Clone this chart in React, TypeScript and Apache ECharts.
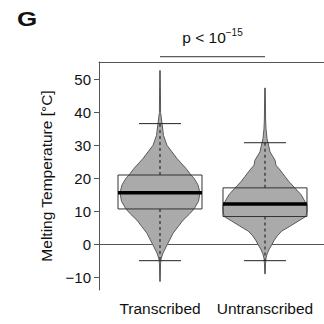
import React, { useEffect, useRef } from "react";
import * as echarts from "echarts";

const categories = ["Transcribed", "Untranscribed"];
const yTicks = [-10, 0, 10, 20, 30, 40, 50];
const whiskerLow = [-5.0, -5.0];
const q1 = [10.7, 8.4];
const median = [15.6, 12.2];
const q3 = [21.0, 17.1];
const whiskerHigh = [36.6, 30.8];

// [value, relative density (1 = widest)]
const violinTranscribed: [number, number][] = [
  [52.7, 0.007], [40, 0.014], [36.6, 0.048], [33, 0.083], [30, 0.167], [26, 0.405],
  [23, 0.619], [21, 0.738], [20, 0.81], [18, 0.905], [15.6, 0.952], [13, 0.917],
  [10.7, 0.81], [9, 0.69], [7.3, 0.55], [5.3, 0.43], [3.3, 0.31], [0.3, 0.19],
  [-2.7, 0.071], [-4.5, 0.024], [-6, 0.012], [-11.3, 0.007],
];
const violinUntranscribed: [number, number][] = [
  [47.4, 0.007], [38, 0.014], [35, 0.024], [32, 0.048], [30.8, 0.071], [28, 0.12],
  [25.5, 0.24], [24, 0.26], [22.5, 0.36], [20.5, 0.48], [19, 0.57], [17.1, 0.71],
  [15, 0.86], [13, 0.95], [12, 1.0], [10, 1.0], [8.4, 0.97], [7, 0.79], [5.5, 0.6],
  [4, 0.4], [2.5, 0.29], [1, 0.21], [0, 0.17], [-1.5, 0.1], [-3, 0.048],
  [-4.3, 0.024], [-6, 0.012], [-9.0, 0.007],
];
const violins = [violinTranscribed, violinUntranscribed];
const pLabelMain = "p < 10";
const pLabelExp = "−15";

const FONT = "Liberation Sans, Arial, Helvetica, sans-serif";
const fmt = (v: number) => (v < 0 ? "−" + Math.abs(v) : String(v));

export default function App() {
  const ref = useRef<HTMLDivElement>(null);
  useEffect(() => {
    if (!ref.current) return;
    const chart = echarts.init(ref.current, undefined, { renderer: "svg" });
    const violinHalf = 0.4;
    const boxHalf = 0.4;
    const capHalf = 0.2;
    const option: any = {
      animation: false,
      backgroundColor: "#fff",
      textStyle: { fontFamily: FONT },
      grid: { left: 99, right: 0, top: 62, bottom: 34, containLabel: false },
      xAxis: [
        {
          type: "value",
          min: 0.419,
          max: 2.562,
          axisLine: { show: true, lineStyle: { color: "#555", width: 1 } },
          axisTick: { show: true, customValues: [1, 2], length: 5, lineStyle: { color: "#555" } },
          axisLabel: {
            customValues: [1, 2],
            formatter: (v: number) => categories[Math.round(v) - 1] ?? "",
            color: "#111",
            fontSize: 15.5,
            fontFamily: FONT,
            margin: 10,
          },
          splitLine: { show: false },
        },
        {
          type: "value",
          position: "top",
          min: 0.419,
          max: 2.562,
          axisLine: { show: true, lineStyle: { color: "#555", width: 1 } },
          axisTick: { show: false },
          axisLabel: { show: false },
          splitLine: { show: false },
        },
      ],
      yAxis: {
        type: "value",
        min: -13.9,
        max: 55.3,
        name: "Melting Temperature [°C]",
        nameLocation: "middle",
        nameGap: 41,
        nameTextStyle: { fontSize: 15.5, color: "#111", fontFamily: FONT },
        axisLine: { show: true, lineStyle: { color: "#555", width: 1 } },
        axisTick: { show: true, customValues: yTicks, length: 5, lineStyle: { color: "#555" } },
        axisLabel: {
          customValues: yTicks,
          formatter: fmt,
          color: "#111",
          fontSize: 15,
          fontFamily: FONT,
          margin: 8,
        },
        splitLine: { show: false },
      },
      graphic: [
        {
          type: "text",
          left: 17,
          top: 9,
          style: { text: "G", fontSize: 20, fontWeight: "bold", fill: "#111", fontFamily: FONT },
          scaleX: 1.3,
        },
      ],
      series: [
        {
          type: "custom",
          clip: false,
          data: categories.map((_, i) => [i + 1, median[i]]),
          encode: { x: 0, y: 1 },
          renderItem: (params: any, api: any) => {
            const i = params.dataIndex;
            const x = i + 1;
            const prof = violins[i];
            const right = prof.map(([v, d]) => api.coord([x + d * violinHalf, v]));
            const left = prof
              .slice()
              .reverse()
              .map(([v, d]) => api.coord([x - d * violinHalf, v]));
            const tl = api.coord([x - boxHalf, q3[i]]);
            const br = api.coord([x + boxHalf, q1[i]]);
            const c = (v: number) => api.coord([x, v]);
            const capL = (v: number) => api.coord([x - capHalf, v]);
            const capR = (v: number) => api.coord([x + capHalf, v]);
            const ml = api.coord([x - boxHalf, median[i]]);
            const mr = api.coord([x + boxHalf, median[i]]);
            return {
              type: "group",
              children: [
                {
                  type: "polygon",
                  shape: { points: right.concat(left) },
                  style: { fill: "#aaaaaa", stroke: "#5a5a5a", lineWidth: 1 },
                },
                {
                  type: "line",
                  shape: { x1: c(q3[i])[0], y1: c(q3[i])[1], x2: c(whiskerHigh[i])[0], y2: c(whiskerHigh[i])[1] },
                  style: { stroke: "#444", lineWidth: 1.5, lineDash: [3, 3] },
                },
                {
                  type: "line",
                  shape: { x1: c(q1[i])[0], y1: c(q1[i])[1], x2: c(whiskerLow[i])[0], y2: c(whiskerLow[i])[1] },
                  style: { stroke: "#444", lineWidth: 1.5, lineDash: [3, 3] },
                },
                {
                  type: "line",
                  shape: { x1: capL(whiskerHigh[i])[0], y1: capL(whiskerHigh[i])[1], x2: capR(whiskerHigh[i])[0], y2: capR(whiskerHigh[i])[1] },
                  style: { stroke: "#222", lineWidth: 1 },
                },
                {
                  type: "line",
                  shape: { x1: capL(whiskerLow[i])[0], y1: capL(whiskerLow[i])[1], x2: capR(whiskerLow[i])[0], y2: capR(whiskerLow[i])[1] },
                  style: { stroke: "#222", lineWidth: 1 },
                },
                {
                  type: "rect",
                  shape: { x: tl[0], y: tl[1], width: br[0] - tl[0], height: br[1] - tl[1] },
                  style: { fill: "none", stroke: "#333", lineWidth: 1 },
                },
                {
                  type: "line",
                  shape: { x1: ml[0], y1: ml[1], x2: mr[0], y2: mr[1] },
                  style: { stroke: "#000", lineWidth: 3.5 },
                },
              ],
            };
          },
          z: 2,
        },
        {
          type: "custom",
          clip: false,
          data: [[1, 2]],
          renderItem: (params: any, api: any) => {
            const a = api.coord([1, 56.9]);
            const b = api.coord([2, 56.9]);
            const t = api.coord([1.5, 59.7]);
            return {
              type: "group",
              children: [
                {
                  type: "line",
                  shape: { x1: a[0], y1: a[1], x2: b[0], y2: b[1] },
                  style: { stroke: "#333", lineWidth: 1 },
                },
                {
                  type: "text",
                  x: t[0],
                  y: t[1],
                  style: {
                    text: "{a|" + pLabelMain + "}{b|" + pLabelExp + "}",
                    align: "center",
                    verticalAlign: "bottom",
                    rich: {
                      a: { fontSize: 15.5, fontFamily: FONT, fill: "#111", lineHeight: 20 },
                      b: { fontSize: 10, fontFamily: FONT, fill: "#111", verticalAlign: "top", lineHeight: 12 },
                    },
                  },
                },
              ],
            };
          },
          z: 3,
        },
      ],
    };
    chart.setOption(option);
    return () => chart.dispose();
  }, []);
  return <div ref={ref} style={{ width: 324, height: 324, position: "absolute", left: 0, top: 0 }} />;
}
